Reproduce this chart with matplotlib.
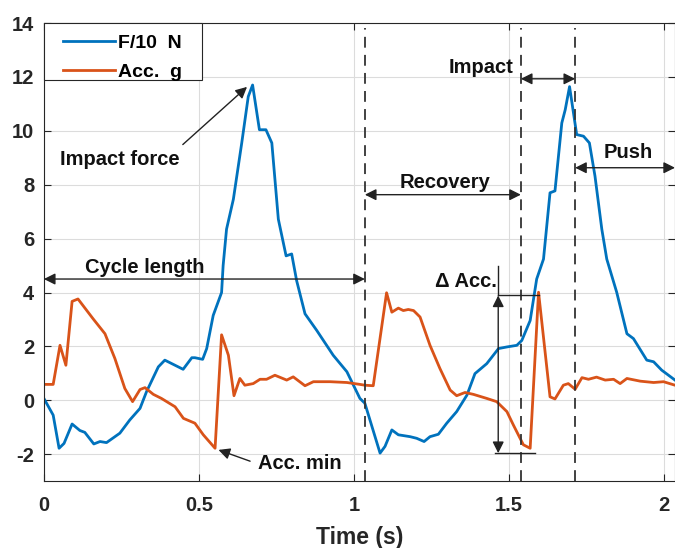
import numpy as np
import matplotlib.pyplot as plt
from matplotlib.patches import Rectangle

# F/10 (N) curve
force_t = [0.0, 0.03, 0.049, 0.065, 0.091, 0.116, 0.132, 0.161, 0.181, 0.202, 0.245,
           0.277, 0.31, 0.331, 0.369, 0.39, 0.449, 0.477, 0.487, 0.512, 0.525, 0.546,
           0.573, 0.578, 0.589, 0.611, 0.638, 0.659, 0.673, 0.695, 0.716, 0.735, 0.756,
           0.781, 0.799, 0.815, 0.842, 0.88, 0.933, 0.977, 1.019, 1.035, 1.084, 1.1,
           1.122, 1.143, 1.181, 1.202, 1.226, 1.245, 1.272, 1.299, 1.331, 1.364, 1.39,
           1.428, 1.466, 1.493, 1.525, 1.541, 1.568, 1.589, 1.611, 1.632, 1.648, 1.67,
           1.681, 1.695, 1.718, 1.74, 1.759, 1.777, 1.799, 1.815, 1.847, 1.88, 1.901,
           1.944, 1.966, 1.992, 2.035]
force_v = [0.07, -0.55, -1.78, -1.6, -0.88, -1.12, -1.19, -1.62, -1.53, -1.57, -1.22,
           -0.73, -0.3, 0.32, 1.24, 1.49, 1.15, 1.58, 1.58, 1.52, 1.92, 3.15,
           4.0, 5.0, 6.35, 7.46, 9.55, 11.27, 11.7, 10.04, 10.04, 9.55, 6.72,
           5.36, 5.43, 4.44, 3.21, 2.59, 1.67, 1.06, 0.07, -0.11, -1.96, -1.71,
           -1.1, -1.28, -1.35, -1.41, -1.53, -1.35, -1.26, -0.85, -0.42, 0.19, 0.99,
           1.36, 1.92, 1.98, 2.04, 2.22, 2.96, 4.5, 5.24, 7.7, 7.77, 10.29,
           10.78, 11.64, 9.86, 9.8, 9.55, 8.32, 6.35, 5.24, 4.01, 2.47, 2.29,
           1.49, 1.43, 1.12, 0.75]

# Acc. (g) curve
acc_t = [0.0, 0.03, 0.052, 0.071, 0.091, 0.11, 0.159, 0.197, 0.229, 0.261, 0.286,
         0.31, 0.326, 0.353, 0.379, 0.423, 0.45, 0.487, 0.514, 0.552, 0.573, 0.595,
         0.613, 0.632, 0.648, 0.675, 0.697, 0.718, 0.745, 0.783, 0.804, 0.842, 0.869,
         0.923, 0.977, 1.019, 1.035, 1.062, 1.105, 1.122, 1.143, 1.159, 1.175, 1.192,
         1.213, 1.245, 1.277, 1.31, 1.331, 1.358, 1.385, 1.428, 1.46, 1.493, 1.514,
         1.546, 1.568, 1.595, 1.632, 1.648, 1.675, 1.691, 1.713, 1.735, 1.756, 1.782,
         1.81, 1.837, 1.858, 1.88, 1.923, 1.966, 1.998, 2.035]
acc_v = [0.59, 0.59, 2.04, 1.3, 3.67, 3.76, 3.02, 2.47, 1.55, 0.44, -0.05,
         0.4, 0.47, 0.22, 0.07, -0.24, -0.67, -0.85, -1.28, -1.78, 2.43, 1.67,
         0.17, 0.81, 0.56, 0.62, 0.78, 0.78, 0.93, 0.75, 0.87, 0.54, 0.69,
         0.69, 0.66, 0.59, 0.56, 0.54, 3.99, 3.27, 3.42, 3.33, 3.37, 3.33,
         3.09, 2.04, 1.18, 0.38, 0.17, 0.29, 0.22, 0.07, -0.05, -0.42, -0.92,
         -1.65, -1.78, 4.01, 0.13, 0.05, 0.56, 0.62, 0.41, 0.84, 0.78, 0.86,
         0.75, 0.78, 0.62, 0.81, 0.71, 0.66, 0.69, 0.56]

# phase markers (s)
phase_lines = [1.035, 1.538, 1.713]

plt.rcParams['font.family'] = ['Liberation Sans', 'DejaVu Sans']
plt.rcParams['font.weight'] = 'bold'
plt.rcParams['axes.unicode_minus'] = False

fig = plt.figure(figsize=(6.75, 5.48), dpi=100)
ax = fig.add_axes([0.065, 0.122, 0.935, 0.836])

ax.plot(force_t, force_v, color='#0072BD', lw=2.0, label='F/10  N')
ax.plot(acc_t, acc_v, color='#D95319', lw=2.0, label='Acc.  g')

ax.set_xlim(0, 2.035)
ax.set_ylim(-3, 14)
ax.set_xticks([0, 0.5, 1, 1.5, 2])
ax.set_xticklabels(['0', '0.5', '1', '1.5', '2'])
ax.set_yticks(range(-2, 15, 2))
ax.grid(True, color='#dcdcdc', lw=0.8)
ax.set_axisbelow(True)
ax.tick_params(direction='in', top=True, right=True, length=5, labelsize=14.5,
               colors='#262626')
ax.tick_params(axis='x', pad=11)
ax.tick_params(axis='y', pad=7)
for lab in ax.get_xticklabels() + ax.get_yticklabels():
    lab.set_fontweight('bold')
for s in ax.spines.values():
    s.set_color('#262626')
ax.set_xlabel('Time (s)', fontsize=16.5, fontweight='bold', color='#262626', labelpad=7.5)

for x in phase_lines:
    ax.plot([x, x], [-3, 13.8], ls=(0, (6, 4)), color='#333333', lw=1.3)

arr = dict(arrowstyle='<|-|>', color='#222222', lw=1.0, mutation_scale=17,
           shrinkA=0, shrinkB=0)
txt = dict(fontsize=14.5, fontweight='bold', color='#111111')

ax.annotate('', xy=(0, 4.5), xytext=(phase_lines[0], 4.5), arrowprops=arr)
ax.text(0.324, 4.92, 'Cycle length', ha='center', va='center', **txt)

ax.annotate('', xy=(phase_lines[0], 7.63), xytext=(phase_lines[1], 7.63), arrowprops=arr)
ax.text(1.294, 8.1, 'Recovery', ha='center', va='center', **txt)

ax.annotate('', xy=(phase_lines[1], 11.93), xytext=(phase_lines[2], 11.93), arrowprops=arr)
ax.text(1.513, 12.35, 'Impact', ha='right', va='center', **txt)

ax.annotate('', xy=(phase_lines[2], 8.63), xytext=(2.035, 8.63), arrowprops=arr)
ax.text(1.884, 9.2, 'Push', ha='center', va='center', **txt)

# delta acc bracket
ax.plot([1.465, 1.465], [3.89, 4.98], color='#222222', lw=1.0)
ax.plot([1.465, 1.595], [3.89, 3.89], color='#222222', lw=1.0)
ax.plot([1.455, 1.582], [-1.96, -1.96], color='#222222', lw=1.0)
ax.annotate('', xy=(1.465, 3.89), xytext=(1.465, -1.96), arrowprops=arr)
ax.text(1.46, 4.4, '\u0394 Acc.', ha='right', va='center', **txt)

single = dict(arrowstyle='-|>', color='#222222', lw=1.0, mutation_scale=17,
              shrinkA=0, shrinkB=0)
ax.text(0.245, 8.93, 'Impact force', ha='center', va='center', **txt)
ax.annotate('', xy=(0.655, 11.63), xytext=(0.448, 9.49), arrowprops=single)
ax.text(0.69, -2.35, 'Acc. min', ha='left', va='center', **txt)
ax.annotate('', xy=(0.563, -1.84), xytext=(0.665, -2.26), arrowprops=single)

# legend: MATLAB-like box drawn separately so the inner padding can be wider
box = Rectangle((0.0652, 0.854), 0.234, 0.104, transform=fig.transFigure,
                facecolor='white', edgecolor='#262626', lw=0.8, zorder=4)
ax.add_patch(box)
box.set_clip_on(False)
leg = ax.legend(loc='upper left', bbox_to_anchor=(0.0933, 0.938),
                bbox_transform=fig.transFigure, fontsize=14, frameon=False,
                handlelength=2.7, borderpad=0, borderaxespad=0,
                labelspacing=0.6, handletextpad=0.15)
leg.set_zorder(5)
for t in leg.get_texts():
    t.set_fontweight('bold')

fig.savefig('out.png', dpi=100)
